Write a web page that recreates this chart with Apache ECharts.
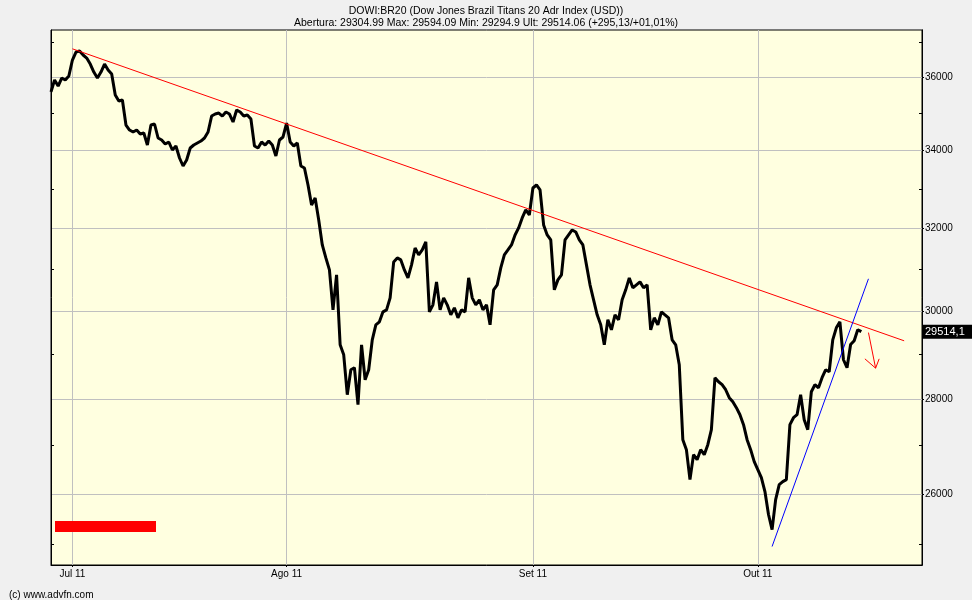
<!DOCTYPE html>
<html>
<head>
<meta charset="utf-8">
<script src="https://cdn.jsdelivr.net/npm/echarts@6/dist/echarts.min.js"></script>
<style>
html,body{margin:0;padding:0;background:#f0f0f0;}
#chart{width:972px;height:600px;}
</style>
</head>
<body>
<div id="chart"></div>
<script>
const titleLine1 = 'DOWI:BR20 (Dow Jones Brazil Titans 20 Adr Index (USD))';
const titleLine2 = 'Abertura: 29304.99 Max: 29594.09 Min: 29294.9 Ult: 29514.06 (+295,13/+01,01%)';
const copyrightText = '(c) www.advfn.com';

const tradingDays = [
  '2011-06-29','2011-06-30',
  '2011-07-01','2011-07-05','2011-07-06','2011-07-07','2011-07-08',
  '2011-07-11','2011-07-12','2011-07-13','2011-07-14','2011-07-15',
  '2011-07-18','2011-07-19','2011-07-20','2011-07-21','2011-07-22',
  '2011-07-25','2011-07-26','2011-07-27','2011-07-28','2011-07-29',
  '2011-08-01','2011-08-02','2011-08-03','2011-08-04','2011-08-05',
  '2011-08-08','2011-08-09','2011-08-10','2011-08-11','2011-08-12',
  '2011-08-15','2011-08-16','2011-08-17','2011-08-18','2011-08-19',
  '2011-08-22','2011-08-23','2011-08-24','2011-08-25','2011-08-26',
  '2011-08-29','2011-08-30','2011-08-31',
  '2011-09-01','2011-09-02','2011-09-06','2011-09-07','2011-09-08','2011-09-09',
  '2011-09-12','2011-09-13','2011-09-14','2011-09-15','2011-09-16',
  '2011-09-19','2011-09-20','2011-09-21','2011-09-22','2011-09-23',
  '2011-09-26','2011-09-27','2011-09-28','2011-09-29','2011-09-30',
  '2011-10-03','2011-10-04','2011-10-05','2011-10-06','2011-10-07',
  '2011-10-10','2011-10-11','2011-10-12','2011-10-13','2011-10-14',
  '2011-10-17','2011-10-18','2011-10-19','2011-10-20','2011-10-21',
  '2011-10-24'
];
const sessions = ['1','2','3'];
const monthLabels = {
  '2011-07-01': 'Jul 11',
  '2011-08-01': 'Ago 11',
  '2011-09-01': 'Set 11',
  '2011-10-03': 'Out 11'
};

// index values, three readings per trading day (29 Jun - 14 Oct 2011)
const prices = [
  35600, 35932, 35764, 35989, 35932, 36045, 36499, 36728, 36756, 36642, 36556, 36385,
  36158, 35989, 36158, 36385, 36214, 36101, 35514, 35347, 35375, 34690, 34555, 34501,
  34555, 34447, 34474, 34152, 34690, 34718, 34340, 34286, 34179, 34233, 34019, 34126,
  33807, 33596, 33754, 34072, 34152, 34206, 34259, 34340, 34501, 34935, 34990, 35017,
  34935, 35044, 34990, 34772, 35099, 35044, 34935, 34962, 34853, 34126, 34072, 34233,
  34152, 34259, 34152, 33860, 34286, 34367, 34745, 34233, 34126, 34206, 33596, 33544,
  33101, 32588, 32766, 32208, 31585, 31267, 30975, 30022, 30854, 29213, 28986, 28094,
  28648, 28693, 27876, 29213, 28425, 28648, 29327, 29673, 29743, 29975, 30022, 30305,
  31169, 31267, 31218, 30975, 30782, 31097, 31511, 31340, 31462, 31660, 29975, 30140,
  30686, 30022, 30305, 30140, 29905, 30069, 29836, 30022, 29975, 30782, 30305, 30140,
  30258, 30022, 30140, 29673, 30495, 30615, 31024, 31340, 31462, 31585, 31833, 32008,
  32259, 32461, 32335, 33024, 33101, 32972, 32083, 31833, 31709, 30495, 30734, 30854,
  31709, 31833, 31958, 31908, 31709, 31585, 31097, 30615, 30258, 29905, 29673, 29213,
  29789, 29557, 29905, 29789, 30258, 30495, 30782, 30543, 30615, 30686, 30543, 30615,
  29557, 29836, 29673, 29975, 29905, 29836, 29327, 29213, 28761, 27124, 26913, 26290,
  26808, 26704, 26913, 26808, 27018, 27337, 28470, 28381, 28315, 28204, 28029, 27941,
  27811, 27659, 27444, 27124, 26913, 26662, 26496, 26331, 26045, 25582, 25283, 25883,
  26188, 26249, 26290, 27444, 27594, 27659, 28094, 27551, 27337, 28160, 28315, 28248,
  28470, 28648, 28603, 29327, 29603, 29743, 28873, 28693, 29220, 29305, 29560, 29514.06
];
const lastPrice = 29514.06;
const lastPriceLabel = '29514,1';

const yLabelValues = [26000, 28000, 30000, 32000, 34000, 36000];
const yMinorValues = [25000, 27000, 29000, 31000, 33000, 35000, 37000];
const yMin = 24592;
const yMax = 37366;
const xMaxIndex = 244;

// drawn annotations, [session index, index value]
const resistanceLine = [[6, 36820], [239, 29304]];
const supportLine = [[202, 24950], [229, 30760]];
const arrowStem = [[229, 29493], [231, 28684]];
const arrowHead = [[228, 28894], [231, 28684], [232, 28894]];

const categories = [];
tradingDays.forEach(d => sessions.forEach(s => categories.push(d + ' ' + s)));
const isMonthStart = (idx, val) => val.endsWith(' 1') && monthLabels[val.slice(0, 10)] !== undefined;

const FONT = 'Liberation Sans, Arial, sans-serif';
const chart = echarts.init(document.getElementById('chart'));
const minorAxis = (pos) => ({
  type: 'log', position: pos, min: yMin, max: yMax,
  axisLine: {show: true, lineStyle: {color: '#000', width: 1}},
  axisTick: {show: true, inside: true, length: 3, customValues: yMinorValues, lineStyle: {color: '#000'}},
  axisLabel: {show: false},
  splitLine: {show: false}
});
chart.setOption({
  animation: false,
  backgroundColor: '#f0f0f0',
  textStyle: {fontFamily: FONT},
  title: [
    {text: titleLine1, subtext: titleLine2, left: 'center', top: 1, itemGap: 1,
     textStyle: {fontSize: 10.5, fontWeight: 'normal', color: '#000', fontFamily: FONT},
     subtextStyle: {fontSize: 10.5, color: '#000', fontFamily: FONT}},
    {text: copyrightText, left: 4, top: 585,
     textStyle: {fontSize: 10, fontWeight: 'normal', color: '#000', fontFamily: FONT}}
  ],
  grid: {left: 51, right: 50, top: 30, bottom: 35, show: true, backgroundColor: '#ffffe0', borderColor: '#000', borderWidth: 1},
  xAxis: {
    type: 'category', data: categories, boundaryGap: false, max: xMaxIndex,
    axisLine: {show: true, lineStyle: {color: '#000'}},
    axisTick: {show: true, length: 2, interval: isMonthStart, lineStyle: {color: '#000'}},
    axisLabel: {interval: isMonthStart, formatter: v => monthLabels[v.slice(0, 10)] || '', margin: 4, fontSize: 10, color: '#000', fontFamily: FONT},
    splitLine: {show: true, interval: isMonthStart, lineStyle: {color: '#c0c0c0', width: 1}}
  },
  yAxis: [
    {
      type: 'log', position: 'right', min: yMin, max: yMax,
      axisLine: {show: true, lineStyle: {color: '#000'}},
      axisTick: {show: true, length: 2, customValues: yLabelValues, lineStyle: {color: '#000'}},
      axisLabel: {customValues: yLabelValues, margin: 3, fontSize: 10, color: '#000', fontFamily: FONT, formatter: v => String(Math.round(v))},
      splitLine: {show: true, lineStyle: {color: '#c0c0c0', width: 1}}
    },
    minorAxis('left'),
    minorAxis('right')
  ],
  series: [
    {
      type: 'line', data: prices, yAxisIndex: 0, showSymbol: false, symbol: 'none', clip: false,
      lineStyle: {color: '#000', width: 3}, z: 3,
      markLine: {
        silent: true, symbol: ['none', 'none'],
        lineStyle: {color: 'rgba(0,0,0,0)', width: 1, type: 'solid'},
        data: [{yAxis: lastPrice}],
        label: {show: true, position: 'end', distance: 1, formatter: lastPriceLabel,
          color: '#fff', backgroundColor: '#000', padding: [2, 8, 1, 2], fontSize: 11, fontFamily: FONT}
      }
    },
    {type: 'line', data: resistanceLine, yAxisIndex: 0, symbol: 'none', lineStyle: {color: '#ff0000', width: 1}, z: 4},
    {type: 'line', data: supportLine, yAxisIndex: 0, symbol: 'none', lineStyle: {color: '#0000ff', width: 1}, z: 4},
    {type: 'line', data: arrowStem, yAxisIndex: 0, symbol: 'none', lineStyle: {color: '#ff0000', width: 1}, z: 4},
    {type: 'line', data: arrowHead, yAxisIndex: 0, symbol: 'none', lineStyle: {color: '#ff0000', width: 1}, z: 4}
  ],
  graphic: [
    {type: 'rect', left: 55, top: 521, shape: {width: 101, height: 11}, style: {fill: '#ff0000'}, z: 10}
  ]
});
</script>
</body>
</html>
